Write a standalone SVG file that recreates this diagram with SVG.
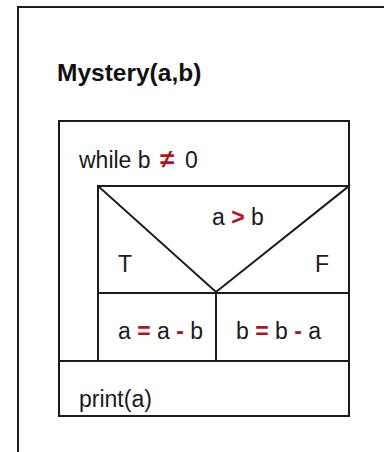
<svg xmlns="http://www.w3.org/2000/svg" width="384" height="452" viewBox="0 0 384 452">
  <style>
    .ln { fill: none; stroke: #1c1c1c; stroke-width: 2; stroke-linecap: square; }
    .tx { font-family: "Liberation Sans", Arial, sans-serif; font-size: 23px; fill: #1a1a1a; }
    .title { font-family: "Liberation Sans", Arial, sans-serif; font-size: 24.5px; font-weight: bold; fill: #111; }
    .op { fill: #b0141c; font-weight: bold; }
  </style>
  <rect x="0" y="0" width="384" height="452" fill="#ffffff"/>
  <g id="frame">
    <path class="ln" d="M384 7 H18 V452"/>
  </g>
  <g id="title">
    <text class="title" x="57" y="81">Mystery(a,b)</text>
  </g>
  <g id="while-loop">
    <rect class="ln" x="59" y="121" width="290" height="295"/>
    <text class="tx" y="168"><tspan x="79">while b</tspan><tspan class="op" x="160" font-size="26">≠</tspan><tspan x="185">0</tspan></text>
  </g>
  <g id="decision">
    <rect class="ln" x="98" y="186" width="251" height="107"/>
    <path class="ln" d="M98 186 L216 292 L349 186"/>
    <text class="tx" x="212" y="225">a <tspan class="op">&gt;</tspan> b</text>
    <text class="tx" x="118" y="272">T</text>
    <text class="tx" x="315" y="272">F</text>
  </g>
  <g id="branch-true">
    <rect class="ln" x="98" y="293" width="118" height="68"/>
    <text class="tx" x="118" y="339">a <tspan class="op">=</tspan> a <tspan class="op">-</tspan> b</text>
  </g>
  <g id="branch-false">
    <rect class="ln" x="216" y="293" width="133" height="68"/>
    <text class="tx" x="236" y="339">b <tspan class="op">=</tspan> b <tspan class="op">-</tspan> a</text>
  </g>
  <g id="print">
    <rect class="ln" x="59" y="361" width="290" height="55"/>
    <text class="tx" x="79" y="407">print(a)</text>
  </g>
</svg>
